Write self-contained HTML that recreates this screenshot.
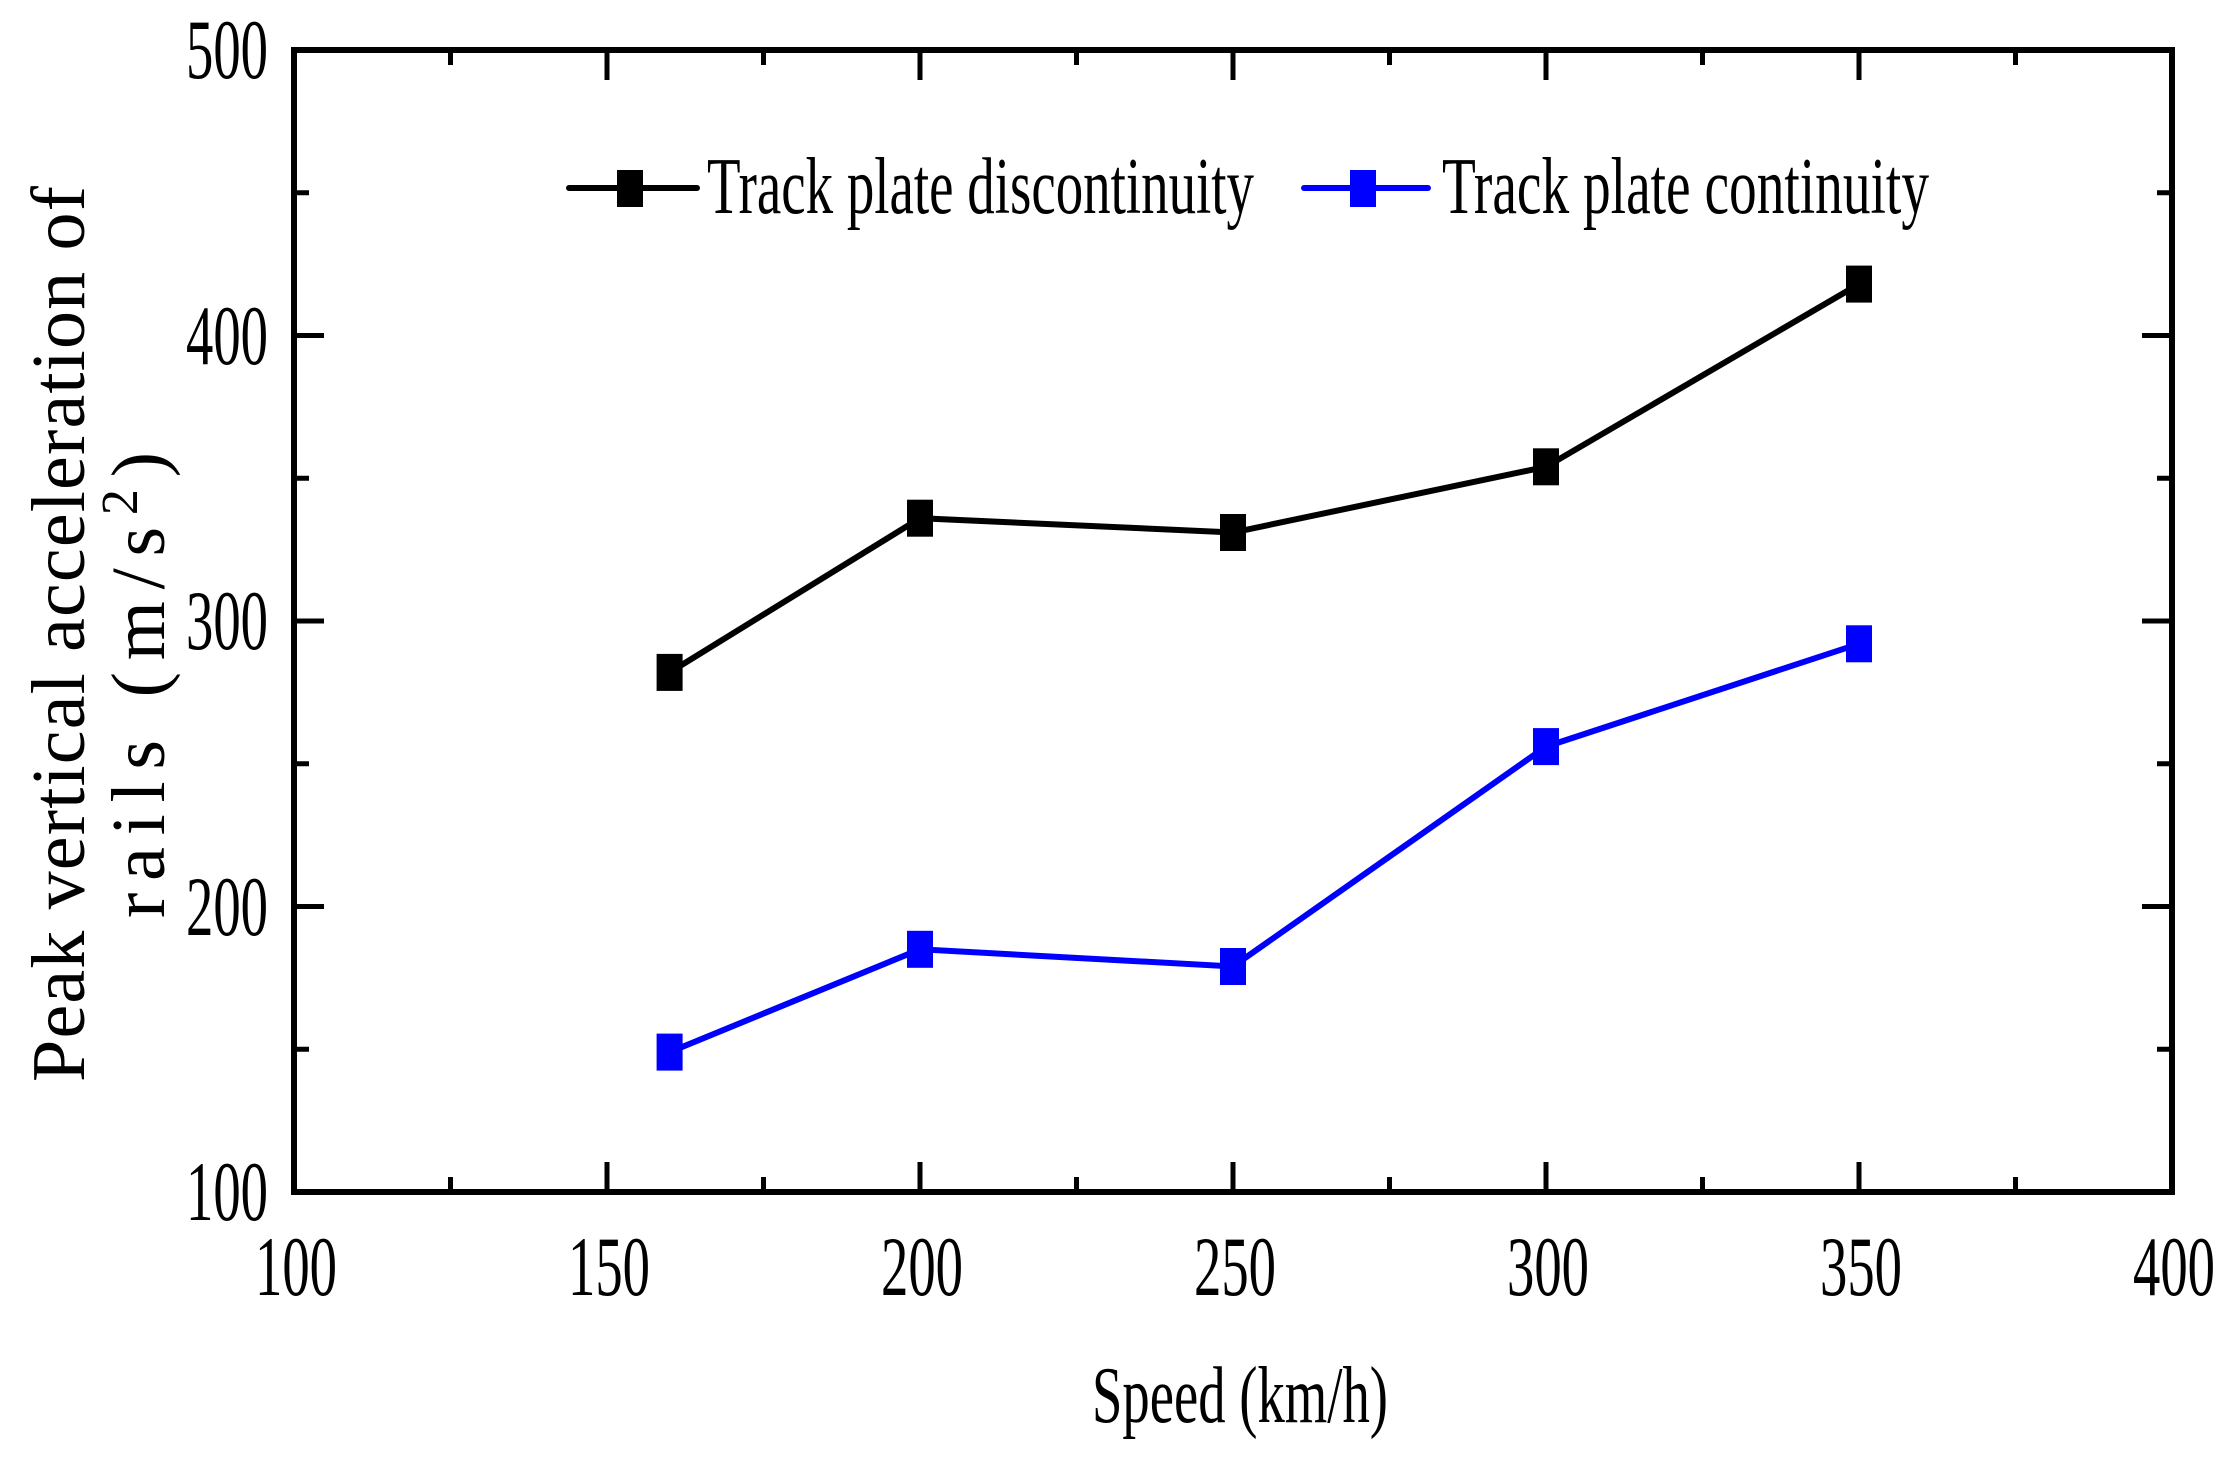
<!DOCTYPE html>
<html><head><meta charset="utf-8"><style>
html,body{margin:0;padding:0;background:#fff;}
svg{display:block;}
text{font-family:"Liberation Serif",serif;fill:#000;}
</style></head><body>
<svg width="2235" height="1458" viewBox="0 0 2235 1458" xmlns="http://www.w3.org/2000/svg">
<rect width="2235" height="1458" fill="#fff"/>
<g stroke="#000" stroke-width="5">
<path d="M607,1192v-30M920,1192v-30M1233,1192v-30M1546,1192v-30M1859,1192v-30"/>
<path d="M607,50v30M920,50v30M1233,50v30M1546,50v30M1859,50v30"/>
<path d="M450.5,1192v-15M763.5,1192v-15M1076.5,1192v-15M1389.5,1192v-15M1702.5,1192v-15M2015.5,1192v-15"/>
<path d="M450.5,50v15M763.5,50v15M1076.5,50v15M1389.5,50v15M1702.5,50v15M2015.5,50v15"/>
<path d="M294,335.5h30M294,621h30M294,906.5h30"/>
<path d="M2172,335.5h-30M2172,621h-30M2172,906.5h-30"/>
<path d="M294,192.75h15M294,478.25h15M294,763.75h15M294,1049.25h15"/>
<path d="M2172,192.75h-15M2172,478.25h-15M2172,763.75h-15M2172,1049.25h-15"/>
</g>
<rect x="294" y="50" width="1878" height="1142" fill="none" stroke="#000" stroke-width="6"/>
<polyline points="669.6,672.4 920,518.2 1233,532.5 1546,466.8 1859,284.1" fill="none" stroke="#000" stroke-width="6"/>
<polyline points="669.6,1052.1 920,949.3 1233,966.5 1546,746.6 1859,643.8" fill="none" stroke="#0000ff" stroke-width="6"/>
<g fill="#000">
<rect x="656.6" y="653.9" width="26" height="37"/>
<rect x="907" y="499.7" width="26" height="37"/>
<rect x="1220" y="514" width="26" height="37"/>
<rect x="1533" y="448.3" width="26" height="37"/>
<rect x="1846" y="265.6" width="26" height="37"/>
</g>
<g fill="#0000ff">
<rect x="656.6" y="1033.6" width="26" height="37"/>
<rect x="907" y="930.8" width="26" height="37"/>
<rect x="1220" y="948" width="26" height="37"/>
<rect x="1533" y="728.1" width="26" height="37"/>
<rect x="1846" y="625.3" width="26" height="37"/>
</g>
<line x1="569" y1="188" x2="697" y2="188" stroke="#000" stroke-width="6" stroke-linecap="round"/>
<rect x="617" y="170" width="26" height="37" fill="#000"/>
<text x="707" y="213" font-size="80" textLength="547" lengthAdjust="spacingAndGlyphs">Track plate discontinuity</text>
<line x1="1304" y1="188" x2="1428" y2="188" stroke="#0000ff" stroke-width="6" stroke-linecap="round"/>
<rect x="1350" y="170" width="26" height="37" fill="#0000ff"/>
<text x="1442" y="213" font-size="80" textLength="487" lengthAdjust="spacingAndGlyphs">Track plate continuity</text>
<g font-size="85" text-anchor="end">
<text x="268" y="78" textLength="82" lengthAdjust="spacingAndGlyphs">500</text>
<text x="268" y="364" textLength="82" lengthAdjust="spacingAndGlyphs">400</text>
<text x="268" y="649" textLength="82" lengthAdjust="spacingAndGlyphs">300</text>
<text x="268" y="935" textLength="82" lengthAdjust="spacingAndGlyphs">200</text>
<text x="268" y="1220" textLength="82" lengthAdjust="spacingAndGlyphs">100</text>
</g>
<g font-size="85" text-anchor="middle">
<text x="296" y="1295" textLength="82" lengthAdjust="spacingAndGlyphs">100</text>
<text x="609" y="1295" textLength="82" lengthAdjust="spacingAndGlyphs">150</text>
<text x="922" y="1295" textLength="82" lengthAdjust="spacingAndGlyphs">200</text>
<text x="1235" y="1295" textLength="82" lengthAdjust="spacingAndGlyphs">250</text>
<text x="1548" y="1295" textLength="82" lengthAdjust="spacingAndGlyphs">300</text>
<text x="1861" y="1295" textLength="82" lengthAdjust="spacingAndGlyphs">350</text>
<text x="2174" y="1295" textLength="82" lengthAdjust="spacingAndGlyphs">400</text>
</g>
<text x="1092" y="1422" font-size="80" textLength="296" lengthAdjust="spacingAndGlyphs">Speed (km/h)</text>
<text transform="translate(84,1082) rotate(-90)" font-size="76" textLength="896" lengthAdjust="spacing">Peak vertical acceleration of</text>
<text transform="translate(164,918) rotate(-90)" font-size="76" textLength="466" lengthAdjust="spacing">rails (m/s<tspan dy="-27" font-size="52">2</tspan><tspan dy="27">)</tspan></text>
</svg>
</body></html>
